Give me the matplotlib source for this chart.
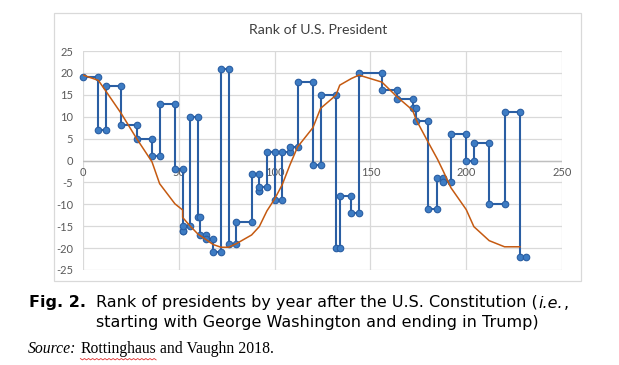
import numpy as np
import matplotlib.pyplot as plt
from matplotlib.patches import Rectangle

# years after the Constitution (1789) for each term, and the rank score
term_start = [0, 8, 12, 20, 28, 36, 40, 48, 52, 52, 56, 60, 61, 64, 68, 72, 76, 80, 88, 92,
              92, 96, 100, 104, 108, 112, 120, 124, 132, 134, 140, 144, 156, 164, 172, 174, 180, 185, 188, 192,
              200, 204, 212, 220, 228]
term_end = [8, 12, 20, 28, 36, 40, 48, 52, 52, 56, 60, 61, 64, 68, 72, 76, 80, 88, 92, 92,
            96, 100, 104, 108, 112, 120, 124, 132, 134, 140, 144, 156, 164, 172, 174, 180, 185, 188, 192, 200,
            204, 212, 220, 228, 231]
rank_score = [19, 7, 17, 8, 5, 1, 13, -2, -16, -15, 10, -13, -17, -18, -21, 21, -19, -14, -3, -7,
              -6, 2, -9, 2, 3, 18, -1, 15, -20, -8, -12, 20, 16, 14, 12, 9, -11, -4, -5, 6,
              0, 4, -10, 11, -22]

# smoothed trend (orange)
trend_x = [0, 8, 12, 20, 28, 36, 40, 48, 52, 52, 56, 60, 64, 68, 72, 76, 80, 88, 92, 96,
           100, 104, 108, 112, 120, 124, 132, 134, 140, 144, 156, 164, 172, 174, 180, 185, 188, 192, 200, 204,
           212, 220, 228]
trend_y = [19.5, 18.3, 15.8, 10.7, 5.0, -0.3, -5.3, -9.9, -11.3, -13.0, -15.0, -16.8, -18.0, -19.2, -19.8, -19.8, -19.0, -17.0, -15.1, -11.5,
           -8.8, -5.5, -1.0, 3.1, 7.5, 11.9, 14.9, 17.2, 18.7, 19.5, 17.9, 14.5, 11.5, 9.2, 4.3, 0.3, -2.4, -6.2, -11.2, -15.1,
           -18.3, -19.7, -19.7]

xticks = [0, 50, 100, 150, 200, 250]
yticks = list(range(-25, 30, 5))

# each term gives two points (start, end) at the same score
px = np.column_stack([term_start, term_end]).ravel()
py = np.column_stack([rank_score, rank_score]).ravel()

W, H = 619, 365
fig = plt.figure(figsize=(W / 100, H / 100), dpi=100)

# chart area border
fig.patches.append(Rectangle((54 / W, 1 - 281 / H), 527 / W, 268 / H,
                             transform=fig.transFigure, fill=False,
                             edgecolor='#d9d9d9', lw=0.9, zorder=0))

ax = fig.add_axes([83 / W, 1 - 270 / H, 479 / W, 219 / H])
ax.set_xlim(0, 250)
ax.set_ylim(-25, 25)
for s in ax.spines.values():
    s.set_visible(False)
ax.set_xticks(xticks)
ax.set_yticks(yticks)
ax.grid(True, color='#d9d9d9', lw=0.9, zorder=0)
ax.set_axisbelow(True)
ax.tick_params(length=0, labelsize=8, labelcolor='#595959', pad=7)
ax.set_yticklabels([str(v) for v in yticks], family='Lato')
ax.set_xticklabels([])
ax.axhline(0, color='#bfbfbf', lw=1.0, zorder=1)
for xv in xticks:
    ax.annotate(str(xv), (xv, 0), xytext=(0, -5), textcoords='offset points',
                ha='center', va='top', fontsize=8, color='#595959', family='Lato', zorder=1)

ax.plot(px, py, color='#2a5ea3', lw=1.5, marker='o', ms=4.7,
        mfc='#3d7cc4', mec='#2a5ea3', mew=0.8, zorder=3, clip_on=False)
ax.plot(trend_x, trend_y, color='#c55a11', lw=1.1, zorder=4)

fig.text(318 / W, 1 - 30 / H, 'Rank of U.S. President', ha='center', va='center',
         fontsize=10.2, family='Lato', color='#404040')

rend = fig.canvas.get_renderer()


def text_row(x, y, pieces, size, family):
    # pieces: (string, weight, style, gap after in px); returns bboxes
    boxes = []
    for s, weight, style, gap in pieces:
        t = fig.text(x / W, 1 - y / H, s, ha='left', va='center', fontsize=size,
                     family=family, weight=weight, style=style, color='black')
        bb = t.get_window_extent(rend)
        boxes.append(bb)
        x = bb.x1 + gap
    return boxes


cap = 11.5
text_row(29, 303, [('Fig. 2.', 'bold', 'normal', 0)], cap, 'DejaVu Sans')
text_row(96, 303, [('Rank of presidents by year after the U.S. Constitution (', 'normal', 'normal', 0.5),
                   ('i.e.', 'normal', 'italic', 0.5),
                   (',', 'normal', 'normal', 0)], cap, 'DejaVu Sans')
text_row(96, 323, [('starting with George Washington and ending in Trump)', 'normal', 'normal', 0)],
         cap, 'DejaVu Sans')
src = text_row(28, 349, [('Source:', 'normal', 'italic', 4),
                         ('Rottinghaus', 'normal', 'normal', 3.5),
                         ('and Vaughn 2018.', 'normal', 'normal', 0)], 11.3, 'Liberation Serif')

# spell-check squiggle under the author name
b = src[1]
n = int((b.x1 - b.x0) / 2) + 1
sq_x = np.linspace(b.x0, b.x1, n)
sq_y = b.y0 - 1.5 - np.where(np.arange(n) % 2 == 0, 0.0, 1.4)
fig.add_artist(plt.Line2D(sq_x / W, sq_y / H, transform=fig.transFigure,
                          color='#e03030', lw=0.6))

fig.savefig('out.png', dpi=100)
